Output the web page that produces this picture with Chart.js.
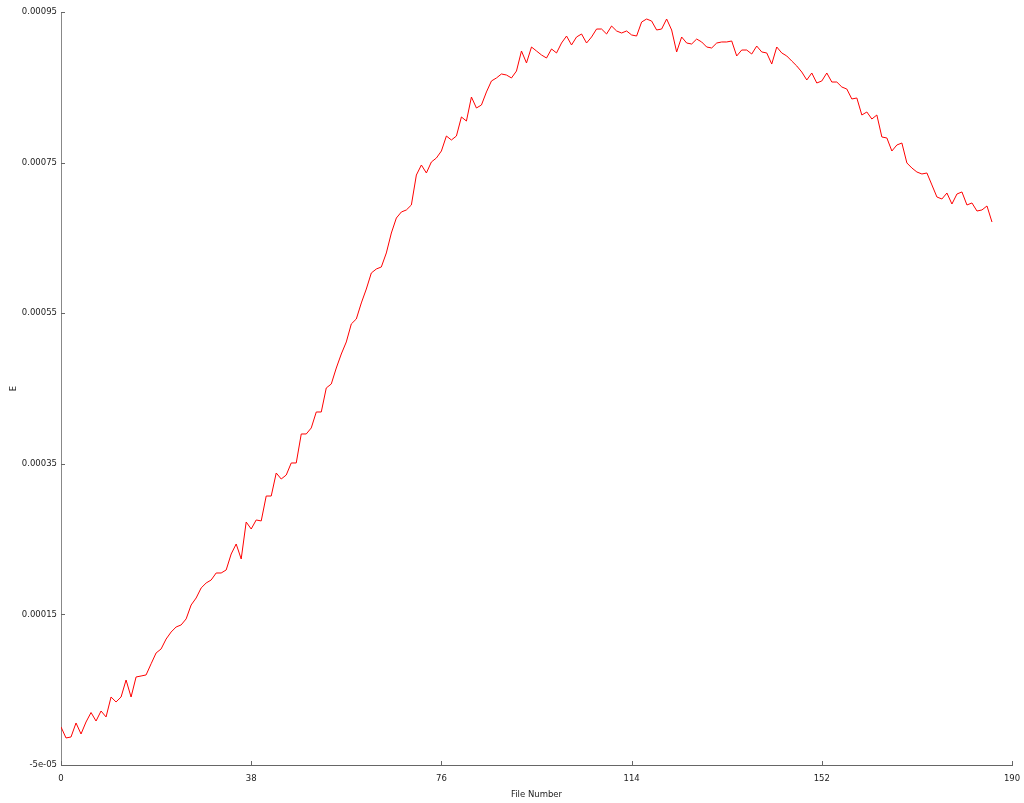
<!DOCTYPE html>
<html>
<head>
<meta charset="utf-8">
<title>E vs File Number</title>
<script src="https://cdn.jsdelivr.net/npm/chart.js@4/dist/chart.umd.min.js"></script>
<style>
  html, body { margin: 0; padding: 0; background: #fff; }
  #wrap { width: 1024px; height: 803px; }
</style>
</head>
<body>
<div id="wrap"><canvas id="myLineChart" width="1024" height="803"></canvas></div>
<script>
// valori (E per ogni file, file 0..186)
const energyValues = [
  0.05e-5, -1.41e-5, -1.28e-5, 0.58e-5, -0.88e-5, 0.71e-5, 1.97e-5, 0.84e-5, 2.17e-5, 1.38e-5,
  4.03e-5, 3.37e-5, 4.03e-5, 6.29e-5, 4.03e-5, 6.69e-5, 6.82e-5, 6.96e-5, 8.44e-5, 9.88e-5,
  10.41e-5, 11.73e-5, 12.66e-5, 13.33e-5, 13.6e-5, 14.4e-5, 16.25e-5, 17.18e-5, 18.51e-5, 19.17e-5,
  19.57e-5, 20.5e-5, 20.5e-5, 20.9e-5, 23.02e-5, 24.35e-5, 22.36e-5, 27.27e-5, 26.34e-5, 27.54e-5,
  27.41e-5, 30.72e-5, 30.72e-5, 33.78e-5, 32.98e-5, 33.51e-5, 35.11e-5, 35.11e-5, 38.96e-5, 38.96e-5,
  39.76e-5, 41.88e-5, 41.88e-5, 45.07e-5, 45.6e-5, 47.72e-5, 49.58e-5, 51.18e-5, 53.57e-5, 54.23e-5,
  56.36e-5, 58.21e-5, 60.34e-5, 60.87e-5, 61.14e-5, 63.0e-5, 65.65e-5, 67.64e-5, 68.44e-5, 68.71e-5,
  69.37e-5, 73.35e-5, 74.68e-5, 73.62e-5, 75.08e-5, 75.61e-5, 76.54e-5, 78.53e-5, 78.0e-5, 78.53e-5,
  81.06e-5, 80.52e-5, 83.71e-5, 82.25e-5, 82.65e-5, 84.38e-5, 85.84e-5, 86.24e-5, 86.77e-5, 86.63e-5,
  86.24e-5, 87.16e-5, 89.82e-5, 88.23e-5, 90.35e-5, 89.82e-5, 89.29e-5, 88.89e-5, 90.09e-5, 89.56e-5,
  90.88e-5, 91.81e-5, 90.62e-5, 91.68e-5, 92.08e-5, 90.88e-5, 91.68e-5, 92.74e-5, 92.74e-5, 92.08e-5,
  93.14e-5, 92.48e-5, 92.21e-5, 92.48e-5, 91.95e-5, 91.81e-5, 93.67e-5, 94.07e-5, 93.8e-5, 92.61e-5,
  92.74e-5, 94.07e-5, 92.61e-5, 89.69e-5, 91.68e-5, 90.88e-5, 90.75e-5, 91.41e-5, 91.02e-5, 90.35e-5,
  90.22e-5, 90.88e-5, 91.02e-5, 91.02e-5, 91.15e-5, 89.16e-5, 89.95e-5, 89.95e-5, 89.42e-5, 90.48e-5,
  89.69e-5, 89.56e-5, 88.09e-5, 90.35e-5, 89.56e-5, 89.16e-5, 88.49e-5, 87.83e-5, 87.03e-5, 85.97e-5,
  86.9e-5, 85.57e-5, 85.84e-5, 86.9e-5, 85.7e-5, 85.7e-5, 85.04e-5, 84.77e-5, 83.45e-5, 83.58e-5,
  81.32e-5, 81.72e-5, 80.79e-5, 81.32e-5, 78.4e-5, 78.27e-5, 76.54e-5, 77.34e-5, 77.6e-5, 74.95e-5,
  74.28e-5, 73.75e-5, 73.49e-5, 73.62e-5, 72.03e-5, 70.43e-5, 70.17e-5, 70.96e-5, 69.5e-5, 70.83e-5,
  71.1e-5, 69.37e-5, 69.64e-5, 68.57e-5, 68.71e-5, 69.24e-5, 67.11e-5
];
const fileNumbers = energyValues.map((v, i) => i);

const xTickValues = [0, 38, 76, 114, 152, 190];
const yTickValues = [-0.00005, 0.00015, 0.00035, 0.00055, 0.00075, 0.00095];
const yTickLabels = ["-5e-05", "0.00015", "0.00035", "0.00055", "0.00075", "0.00095"];

const labelFont = { family: "DejaVu Sans", size: 8.5 };

// tacche verso l'interno, come nell'originale
const innerTicks = {
  id: "innerTicks",
  afterDraw(chart) {
    const c = chart.ctx;
    const xs = chart.scales.x;
    const ys = chart.scales.y;
    c.save();
    c.lineWidth = 1;
    c.strokeStyle = "#666";
    c.beginPath();
    xTickValues.forEach(function (v) {
      const px = Math.round(xs.getPixelForValue(v)) + 0.5;
      c.moveTo(px, ys.bottom);
      c.lineTo(px, ys.bottom - 4);
    });
    yTickValues.forEach(function (v) {
      const py = Math.round(ys.getPixelForValue(v)) + 0.5;
      c.moveTo(xs.left, py);
      c.lineTo(xs.left + 4, py);
    });
    c.stroke();
    c.restore();
  },
};

var ctx = document.getElementById("myLineChart").getContext("2d");
var myLineChart = new Chart(ctx, {
  type: "line",
  data: {
    datasets: [
      {
        label: "E",
        data: fileNumbers.map((n, i) => ({ x: n, y: energyValues[i] })),
        borderColor: "rgb(255, 0, 0)",
        borderWidth: 1,
        pointRadius: 0,
        tension: 0,
        fill: false,
      },
    ],
  },
  options: {
    responsive: false,
    animation: false,
    layout: { padding: { top: 12, right: 12, left: 0, bottom: 0 } },
    plugins: {
      legend: { display: false },
      tooltip: { enabled: false },
    },
    scales: {
      x: {
        type: "linear",
        min: 0,
        max: 190,
        afterBuildTicks: function (scale) {
          scale.ticks = xTickValues.map((v) => ({ value: v }));
        },
        afterFit: function (scale) {
          scale.height = 38;
          scale.paddingLeft = 0;
          scale.paddingRight = 0;
        },
        grid: { display: false, drawTicks: false },
        border: { display: true, color: "#666", width: 1 },
        ticks: {
          padding: 9,
          maxRotation: 0,
          autoSkip: false,
          color: "#222",
          font: labelFont,
          callback: (v) => String(v),
        },
        title: {
          display: true,
          text: "File Number",
          color: "#222",
          font: labelFont,
          padding: { top: 0, bottom: 3 },
        },
      },
      y: {
        type: "linear",
        min: -0.00005,
        max: 0.00095,
        afterBuildTicks: function (scale) {
          scale.ticks = yTickValues.map((v) => ({ value: v }));
        },
        afterFit: function (scale) {
          scale.width = 61;
          scale.paddingTop = 0;
          scale.paddingBottom = 0;
        },
        grid: { display: false, drawTicks: false },
        border: { display: true, color: "#888", width: 1 },
        ticks: {
          padding: 4,
          autoSkip: false,
          color: "#222",
          font: labelFont,
          callback: function (v) {
            const i = yTickValues.findIndex((t) => Math.abs(t - v) < 1e-9);
            return i >= 0 ? yTickLabels[i] : "";
          },
        },
        title: {
          display: true,
          text: "E",
          color: "#222",
          font: labelFont,
          padding: { top: 9, bottom: 0 },
        },
      },
    },
  },
  plugins: [innerTicks],
});
</script>
</body>
</html>
